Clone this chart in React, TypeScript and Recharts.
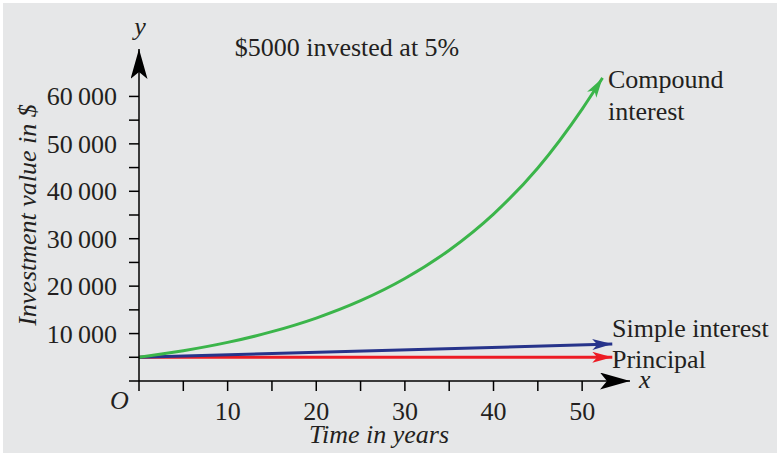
import React from 'react';
import { LineChart, Line, XAxis, YAxis } from 'recharts';

const compoundYears = [0, 5, 10, 15, 20, 25, 30, 35, 40, 45, 50, 52.3];
const compoundValues = [5000, 6380, 8140, 10400, 13270, 16930, 21610, 27580, 35200, 44920, 57340, 63900];
const simpleYears = [0, 53.4];
const simpleValues = [5000, 7800];
const principalYears = [0, 53.4];
const principalValues = [5000, 5000];
const xTicks = [0, 5, 10, 15, 20, 25, 30, 35, 40, 45, 50];
const yTicks = [0, 5000, 10000, 15000, 20000, 25000, 30000, 35000, 40000, 45000, 50000, 55000, 60000];

const compoundData = compoundYears.map((t, i) => ({ t, v: compoundValues[i] }));
const simpleData = simpleYears.map((t, i) => ({ t, v: simpleValues[i] }));
const principalData = principalYears.map((t, i) => ({ t, v: principalValues[i] }));

const FONT = '"Liberation Serif", "Times New Roman", serif';
const INK = '#231f20';

const fmt = (v: number) => {
  const s = String(v);
  return s.slice(0, s.length - 3) + '\u2009' + s.slice(-3);
};

const YTick = (props: any) => {
  const { x, y, payload } = props;
  const v = payload.value;
  if (v === 0 || v % 10000 !== 0) return null;
  return (
    <text x={x} y={y + 9} textAnchor="end" fontFamily={FONT} fontSize={26} fill={INK}>
      {fmt(v)}
    </text>
  );
};

const XTick = (props: any) => {
  const { x, y, payload } = props;
  const v = payload.value;
  if (v === 0 || v % 10 !== 0) return null;
  return (
    <text x={x} y={y + 29} textAnchor="middle" fontFamily={FONT} fontSize={26} fill={INK}>
      {v}
    </text>
  );
};

export default function App() {
  return (
    <div style={{ position: 'absolute', left: 0, top: 0, width: 779, height: 456, background: '#ffffff' }}>
      <div style={{ position: 'absolute', left: 3, top: 3, width: 774, height: 450, background: '#e6e7e8' }} />
      <div style={{ position: 'absolute', left: 0, top: 0 }}>
        <LineChart
          width={779}
          height={456}
          margin={{ top: 49, right: 149, bottom: 45, left: 79 }}
        >
          <defs>
            <marker id="axisArrow" markerUnits="userSpaceOnUse" markerWidth={32} markerHeight={18} refX={30} refY={8.5} orient="auto-start-reverse" viewBox="0 0 32 18">
              <path d="M0,0 L30,8.5 L0,17 L7,8.5 Z" fill="#000" />
            </marker>
            <marker id="greenArrow" markerUnits="userSpaceOnUse" markerWidth={22} markerHeight={12} refX={20} refY={5.5} orient="auto" viewBox="0 0 22 12">
              <path d="M0,0 L20,5.5 L0,11 L5,5.5 Z" fill="#3bb54a" />
            </marker>
            <marker id="blueArrow" markerUnits="userSpaceOnUse" markerWidth={22} markerHeight={12} refX={20} refY={5.5} orient="auto" viewBox="0 0 22 12">
              <path d="M0,0 L20,5.5 L0,11 L5,5.5 Z" fill="#27348b" />
            </marker>
            <marker id="redArrow" markerUnits="userSpaceOnUse" markerWidth={22} markerHeight={12} refX={20} refY={5.5} orient="auto" viewBox="0 0 22 12">
              <path d="M0,0 L20,5.5 L0,11 L5,5.5 Z" fill="#ed1c24" />
            </marker>
          </defs>
          <XAxis
            type="number"
            dataKey="t"
            domain={[0, 55.4]}
            ticks={xTicks}
            interval={0}
            height={30}
            tickSize={10}
            tickMargin={0}
            tick={<XTick />}
            axisLine={{ stroke: '#000', strokeWidth: 1.5, markerEnd: 'url(#axisArrow)' } as any}
            tickLine={{ stroke: '#000', strokeWidth: 1.5 }}
            allowDataOverflow
          />
          <YAxis
            type="number"
            dataKey="v"
            domain={[0, 70000]}
            ticks={yTicks}
            interval={0}
            width={60}
            tickSize={10}
            tickMargin={12}
            tick={<YTick />}
            axisLine={{ stroke: '#000', strokeWidth: 1.5, markerStart: 'url(#axisArrow)' } as any}
            tickLine={{ stroke: '#000', strokeWidth: 1.5 }}
            allowDataOverflow
          />
          <Line data={principalData} dataKey="v" type="linear" stroke="#ed1c24" strokeWidth={3} dot={false} activeDot={false} isAnimationActive={false} markerEnd="url(#redArrow)" />
          <Line data={simpleData} dataKey="v" type="linear" stroke="#27348b" strokeWidth={3} dot={false} activeDot={false} isAnimationActive={false} markerEnd="url(#blueArrow)" />
          <Line data={compoundData} dataKey="v" type="monotone" stroke="#3bb54a" strokeWidth={3} dot={false} activeDot={false} isAnimationActive={false} markerEnd="url(#greenArrow)" />
        </LineChart>
      </div>
      <svg width={779} height={456} style={{ position: 'absolute', left: 0, top: 0, pointerEvents: 'none' }}>
        <g fontFamily={FONT} fontSize={26} fill={INK}>
          <text x={347} y={56} textAnchor="middle">$5000 invested at 5%</text>
          <text x={140} y={35} textAnchor="middle" fontStyle="italic">y</text>
          <text x={639} y={388} fontStyle="italic">x</text>
          <text x={110} y={409} fontStyle="italic">O</text>
          <text x={608} y={88}>Compound</text>
          <text x={608} y={120}>interest</text>
          <text x={612} y={337}>Simple interest</text>
          <text x={612} y={368}>Principal</text>
          <text x={379} y={443} textAnchor="middle" fontStyle="italic">Time in years</text>
          <text x={36} y={215} textAnchor="middle" fontStyle="italic" transform="rotate(-90, 36, 215)">Investment value in $</text>
        </g>
      </svg>
    </div>
  );
}
